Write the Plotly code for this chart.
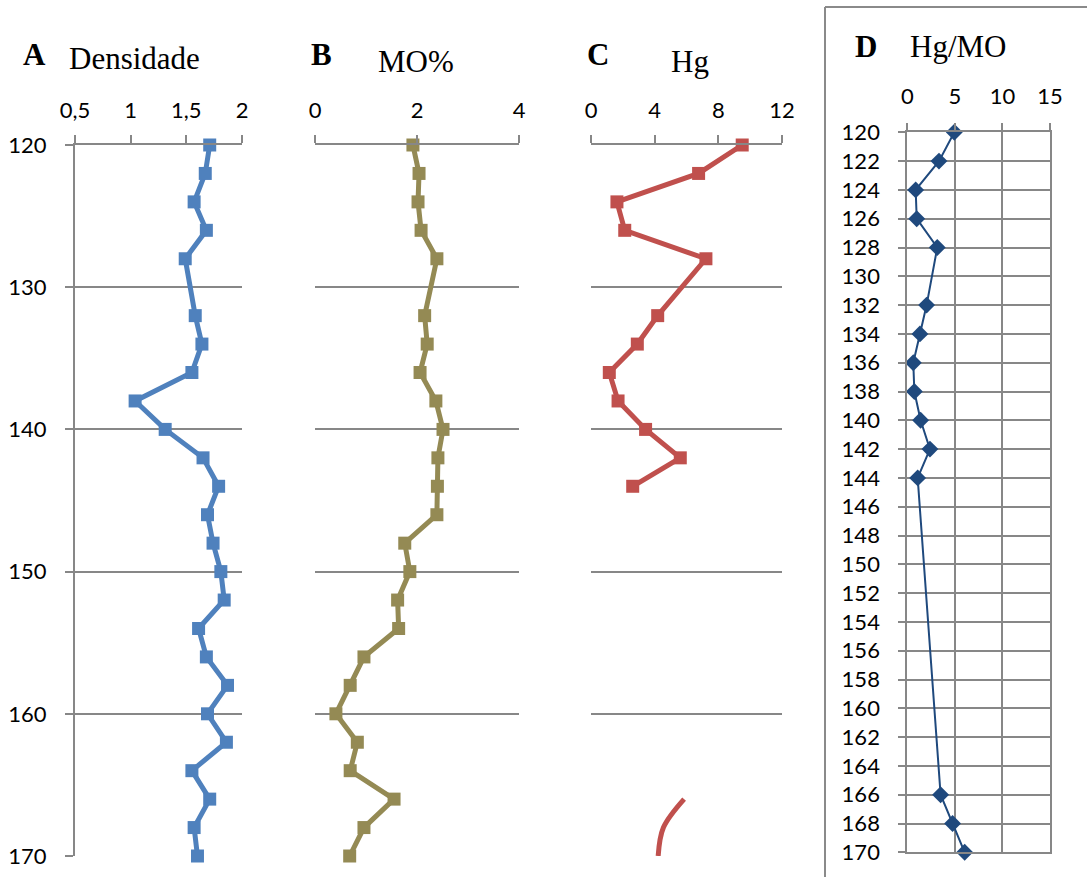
import plotly.graph_objects as go

# ---------------- data ----------------
depth = list(range(120, 172, 2))

densidade = [1.71, 1.67, 1.57, 1.68, 1.49, None, 1.58, 1.64, 1.55, 1.04, 1.31, 1.65, 1.79,
             1.69, 1.74, 1.81, 1.84, 1.61, 1.68, 1.87, 1.69, 1.86, 1.55, 1.71, 1.57, 1.60]

mo_pct = [1.92, 2.04, 2.02, 2.08, 2.39, None, 2.15, 2.20, 2.06, 2.37, 2.51, 2.41, 2.40,
          2.39, 1.76, 1.86, 1.62, 1.64, 0.96, 0.69, 0.41, 0.83, 0.69, 1.55, 0.96, 0.68]

hg = [9.50, 6.76, 1.63, 2.12, 7.22, None, 4.19, 2.91, 1.15, 1.70, 3.43, 5.61, 2.62,
      None, None, None, None, None, None, None, None, None, None, 5.85, 4.55, 4.22]

hg_mo = [4.94, 3.33, 0.88, 0.99, 3.15, None, 2.03, 1.33, 0.63, 0.74, 1.40, 2.38, 1.09,
         None, None, None, None, None, None, None, None, None, None, 3.50, 4.76, 6.03]

a_ticks = [0.5, 1, 1.5, 2]
a_ticktext = ["0,5", "1", "1,5", "2"]
b_ticks = [0, 2, 4]
c_ticks = [0, 4, 8, 12]
d_ticks = [0, 5, 10, 15]
abc_yticks = list(range(120, 180, 10))
d_yticks = list(range(120, 172, 2))

# ---------------- layout helpers ----------------
W, H = 1087, 877
def fx(p): return p / W
def fy(p): return 1 - p / H

GRID = "#878787"
TICKFONT = dict(family="Lato", size=22, color="black")
SERIF = "Liberation Serif"

fig = go.Figure()

split = depth.index(166)
hg_top_d = depth[:split]
hg_top_v = hg[:split]
hg_tail_d = [d for d, v in zip(depth[split:], hg[split:]) if v is not None]
hg_tail_v = [v for v in hg[split:] if v is not None]

fig.add_trace(go.Scatter(x=densidade, y=depth, mode="lines+markers", connectgaps=True,
                         line=dict(color="#4F81BD", width=5),
                         marker=dict(symbol="square", size=13, color="#4F81BD"),
                         cliponaxis=False, xaxis="x", yaxis="y", showlegend=False))
fig.add_trace(go.Scatter(x=mo_pct, y=depth, mode="lines+markers", connectgaps=True,
                         line=dict(color="#948A54", width=5),
                         marker=dict(symbol="square", size=13, color="#948A54"),
                         cliponaxis=False, xaxis="x2", yaxis="y2", showlegend=False))
fig.add_trace(go.Scatter(x=hg_top_v, y=hg_top_d, mode="lines+markers", connectgaps=True,
                         line=dict(color="#C0504D", width=5),
                         marker=dict(symbol="square", size=13, color="#C0504D"),
                         cliponaxis=False, xaxis="x3", yaxis="y3", showlegend=False))
fig.add_trace(go.Scatter(x=hg_tail_v, y=hg_tail_d, mode="lines",
                         line=dict(color="#C0504D", width=5, shape="spline", smoothing=1.0),
                         cliponaxis=False, xaxis="x3", yaxis="y3", showlegend=False))
fig.add_trace(go.Scatter(x=hg_mo, y=depth, mode="lines+markers", connectgaps=True,
                         line=dict(color="#1F497D", width=2),
                         marker=dict(symbol="diamond", size=13, color="#1F497D"),
                         cliponaxis=False, xaxis="x4", yaxis="y4", showlegend=False))

ydom = [fy(856), fy(145)]

def xax(dom, rng, tv, tt=None, anchor="y"):
    d = dict(domain=dom, range=rng, tickvals=tv, side="top", anchor=anchor,
             showline=True, linecolor=GRID, linewidth=2, ticks="outside", ticklen=8,
             tickwidth=2, tickcolor=GRID, showgrid=False, zeroline=False,
             tickfont=TICKFONT, ticklabelstandoff=8, fixedrange=True, automargin=False)
    if tt is not None:
        d["ticktext"] = tt
    return d

fig.update_layout(
    width=W, height=H, margin=dict(l=0, r=0, t=0, b=0, autoexpand=False),
    paper_bgcolor="white", plot_bgcolor="white",
    xaxis=xax([fx(75), fx(242)], [0.5, 2], a_ticks, a_ticktext, "y"),
    yaxis=dict(domain=ydom, range=[170, 120], tickvals=abc_yticks, anchor="x",
               showline=True, linecolor=GRID, linewidth=2, ticks="outside", ticklen=8,
               tickwidth=2, tickcolor=GRID, showgrid=True, gridcolor=GRID, gridwidth=2,
               zeroline=False, tickfont=TICKFONT, ticklabelstandoff=14, automargin=False),
    xaxis2=xax([fx(315), fx(519)], [0, 4], b_ticks, None, "y2"),
    yaxis2=dict(domain=ydom, range=[170, 120], tickvals=abc_yticks, anchor="x2",
                showline=False, ticks="", showticklabels=False, showgrid=True,
                gridcolor=GRID, gridwidth=2, zeroline=False, automargin=False),
    xaxis3=xax([fx(591), fx(782)], [0, 12], c_ticks, None, "y3"),
    yaxis3=dict(domain=ydom, range=[170, 120], tickvals=abc_yticks, anchor="x3",
                showline=False, ticks="", showticklabels=False, showgrid=True,
                gridcolor=GRID, gridwidth=2, zeroline=False, automargin=False),
    xaxis4=dict(domain=[fx(907.3), fx(1050)], range=[0, 15], tickvals=d_ticks, side="top",
                anchor="y4", showline=True, mirror=True, linecolor=GRID, linewidth=2,
                ticks="outside", ticklen=7, tickwidth=2, tickcolor=GRID,
                showgrid=True, gridcolor=GRID, gridwidth=2, zeroline=False,
                tickfont=TICKFONT, ticklabelstandoff=11, automargin=False),
    yaxis4=dict(domain=[fy(852.3), fy(132.3)], range=[170, 120], tickvals=d_yticks,
                anchor="x4", showline=True, mirror=True, linecolor=GRID, linewidth=2,
                ticks="outside", ticklen=7, tickwidth=2, tickcolor=GRID,
                showgrid=True, gridcolor=GRID, gridwidth=2, zeroline=False,
                tickfont=TICKFONT, ticklabelstandoff=14, automargin=False),
)

# frame around panel D (left and top edges; the rest lies outside the picture)
FRAME = dict(color="#8A8A8A", width=2)
fig.add_shape(type="line", xref="paper", yref="paper",
              x0=fx(825), x1=1, y0=fy(7), y1=fy(7), line=FRAME)
fig.add_shape(type="line", xref="paper", yref="paper",
              x0=fx(825), x1=fx(825), y0=0, y1=fy(7), line=FRAME)

def title(txt, xpx, ypx, bold=False):
    fig.add_annotation(text=("<b>%s</b>" % txt) if bold else txt, xref="paper", yref="paper",
                       x=fx(xpx), y=fy(ypx), xanchor="left", yanchor="middle",
                       showarrow=False, font=dict(family=SERIF, size=31, color="black"))

title("A", 21, 54, True)
title("Densidade", 67, 58)
title("B", 309, 55, True)
title("MO%", 376, 61)
title("C", 585, 55, True)
title("Hg", 669, 61)
title("D", 853, 47, True)
title("Hg/MO", 908, 47)

fig.write_html("out.html")
